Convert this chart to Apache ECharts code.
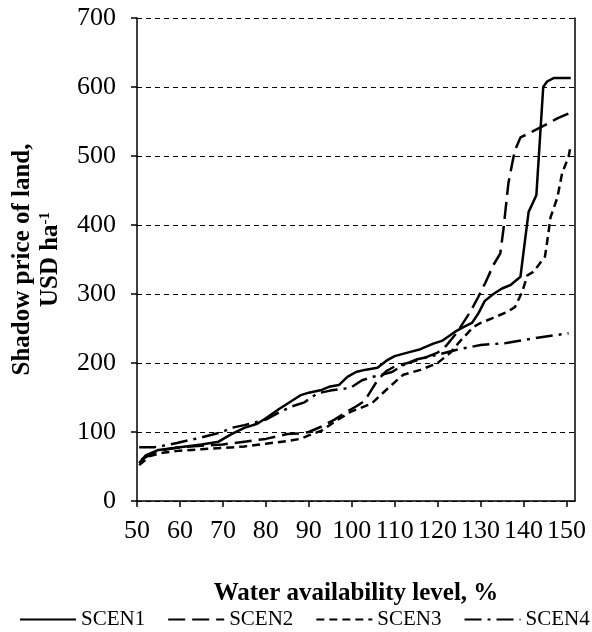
<!DOCTYPE html>
<html>
<head>
<meta charset="utf-8">
<script src="https://cdn.jsdelivr.net/npm/echarts@6/dist/echarts.min.js"></script>
<style>html,body{margin:0;padding:0;background:#fff}#c{width:592px;height:632px}</style>
</head>
<body>
<div id="c"></div>
<script>
// Tick values
const xTicks = [50, 60, 70, 80, 90, 100, 110, 120, 130, 140, 150];
const yTicks = [0, 100, 200, 300, 400, 500, 600, 700];
const seriesNames = ['SCEN1', 'SCEN2', 'SCEN3', 'SCEN4'];

// SCEN1 (solid)
const scen1X = [50.5,52,55,60,65,69,72,75,78,80,83,86,88,90,93,95,97,99,101,103,106,108,110,113,116,119,121,124,126,128,129.5,131,133,135,137,139.3,140.4,141.2,143,144.6,145.5,147,151];
const scen1Y = [55,66,74,78,82,86,97,106,112,120,133,145,153,157,161,166,168,180,187,190,193,203,210,215,220,228,232,245,252,258,272,290,300,308,313,325,380,419,443,600,608,613,613];

// SCEN2 (long dash)
const scen2X = [51,54,57,60,65,70,75,80,85,88,90,93,96,99,101,103,104.5,106,108,110,113,116,120,122,124.6,127.6,129.5,131.1,133,134.6,135.3,136.5,137.4,138,139.3,141,143.5,146.3,148,151];
const scen2Y = [60,70,75,78,80,82,86,90,97,98,100,108,118,130,137,145,160,175,188,195,200,205,215,225,245,274,296,316,342,359,392,461,490,508,527,532,540,549,555,563];

// SCEN3 (short dash)
const scen3X = [50.5,53,56,60,65,70,75,80,85,88,90,93,96,100,104.6,108.2,112,116,120,123,125,128.3,130,132.8,136.2,138,139.7,140.9,142.3,145,145.8,146.3,147.9,149,150.5,151];
const scen3Y = [52,65,70,73,75,77,79,83,87,90,95,102,115,130,141,162,183,190,200,215,230,252,258,265,274,281,303,327,332,354,388,411,440,475,499,515];

// SCEN4 (dash-dot)
const scen4X = [50.5,54,56,59.3,62,65,69.8,72,75,77,80,83,86,89,92,95,99.7,102.4,105,109.4,112,115,120,125,130,136,141.6,147,150.5];
const scen4Y = [78,78,80,84,88,92,100,106,110,113,118,128,137,143,156,160,164,175,180,187,197,205,212,220,226,229,235,240,243];

const pairs = (xs, ys) => xs.map((x, i) => [x, ys[i]]);
const dashes = ['solid', [17, 7], [8, 5], [17, 6, 3, 6]];
const allData = [pairs(scen1X, scen1Y), pairs(scen2X, scen2Y), pairs(scen3X, scen3Y), pairs(scen4X, scen4Y)];

const font = 'Liberation Serif';
const chart = echarts.init(document.getElementById('c'), null, {renderer: 'canvas'});
chart.setOption({
  animation: false,
  backgroundColor: '#fff',
  textStyle: {fontFamily: font, color: '#000'},
  grid: {left: 137, right: 17, top: 18, bottom: 131, containLabel: false, outerBoundsMode: 'none'},
  xAxis: {
    type: 'value', min: xTicks[0], max: 152, interval: 10,
    name: 'Water availability level, %', nameLocation: 'middle', nameGap: 80,
    nameTextStyle: {fontFamily: font, fontWeight: 'bold', fontSize: 25, color: '#000'},
    axisLine: {show: true, onZero: false, lineStyle: {color: '#000', width: 1.5}},
    axisTick: {show: true, inside: false, length: 6, lineStyle: {color: '#000', width: 1.5},
      customValues: xTicks},
    axisLabel: {fontFamily: font, fontSize: 26, color: '#000', margin: 17,
      showMaxLabel: true, customValues: xTicks},
    splitLine: {show: false}
  },
  yAxis: [{
    type: 'value', min: yTicks[0], max: yTicks[yTicks.length - 1], interval: 100,
    name: '{b|Shadow price of land,}\n{b|USD ha}{s|-1}', nameLocation: 'middle', nameGap: 72, nameRotate: 90,
    nameTextStyle: {
      rich: {
        b: {fontFamily: font, fontWeight: 'bold', fontSize: 25, color: '#000', lineHeight: 28},
        s: {fontFamily: font, fontWeight: 'bold', fontSize: 15, color: '#000', padding: [0, 0, 12, 0]}
      }
    },
    axisLine: {show: true, lineStyle: {color: '#000', width: 1.5}},
    axisTick: {show: true, inside: false, length: 6, lineStyle: {color: '#000', width: 1.5}},
    axisLabel: {fontFamily: font, fontSize: 26, color: '#000', margin: 21},
    splitLine: {show: true, lineStyle: {color: '#000', width: 1, type: [5, 4]}}
  }, {
    type: 'value', min: 0, max: 700, position: 'right',
    axisLine: {show: true, lineStyle: {color: '#000', width: 1.5}},
    axisTick: {show: false}, axisLabel: {show: false}, splitLine: {show: false}
  }],
  legend: {
    left: 14, bottom: -3, width: 1000, itemWidth: 56, itemHeight: 14, itemGap: 22,
    data: seriesNames,
    itemStyle: {opacity: 0, borderWidth: 0},
    textStyle: {fontFamily: font, fontSize: 21, color: '#000'}
  },
  series: seriesNames.map((n, i) => ({
    name: n, type: 'line', data: allData[i], showSymbol: false, symbol: 'none',
    lineStyle: {color: '#000', width: 2.5, type: dashes[i]},
    itemStyle: {color: '#000'}
  }))
});
</script>
</body>
</html>
